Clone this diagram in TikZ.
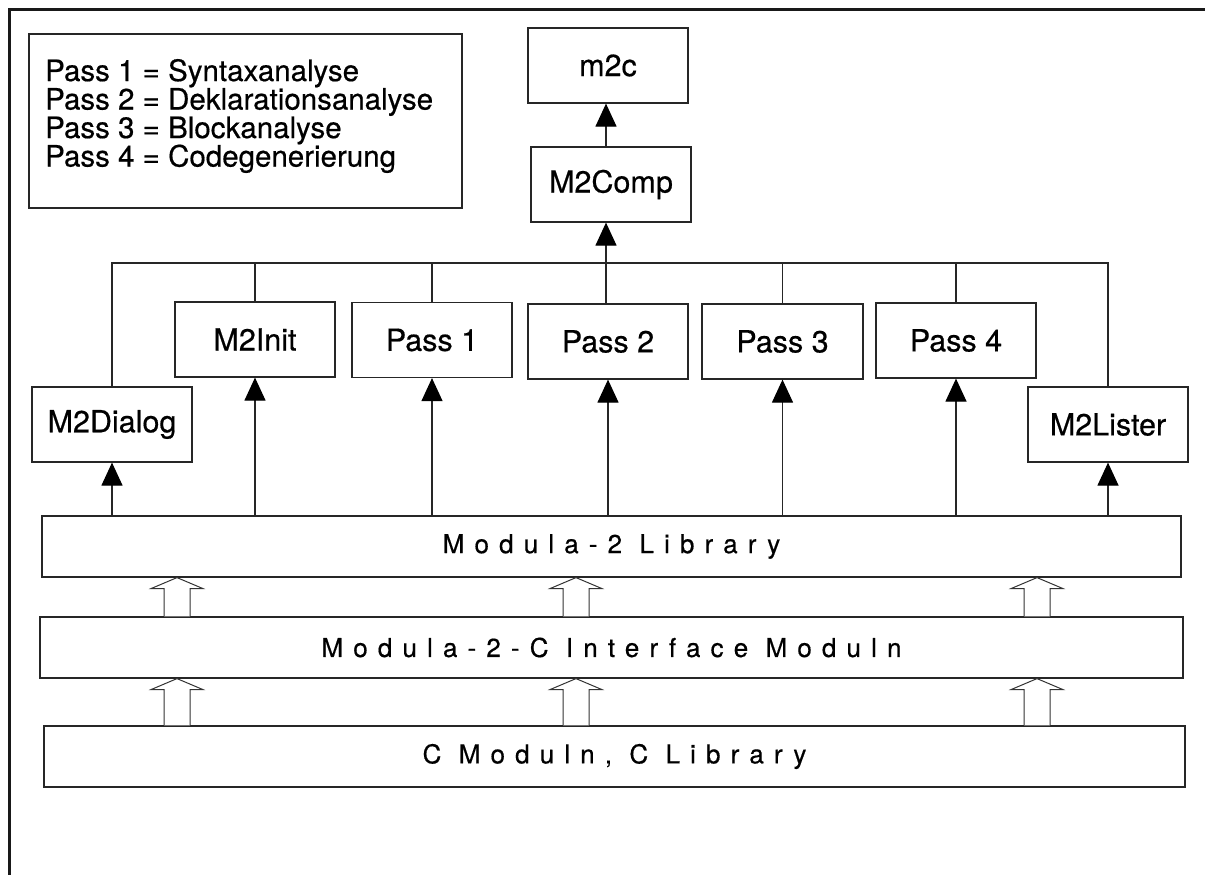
\documentclass[tikz,border=0pt]{standalone}
\usepackage{fontspec}
\setmainfont{TeX Gyre Heros}[FakeBold=0.5]
\usetikzlibrary{arrows.meta,calc}

\tikzset{
  ln/.style={draw=black!85, line width=1.2pt},
  box/.style={ln, fill=white, minimum width=160pt, minimum height=75pt, inner sep=0pt,
              font=\fontsize{30.5}{36}\selectfont},
  layer/.style={ln, fill=white, minimum height=61pt, inner sep=0pt,
              font=\fontsize{26}{30}\selectfont\addfontfeature{LetterSpace=39}},
  arr/.style={ln, -{Triangle[length=23pt,width=21pt,color=black]}},
  hollow/.style={draw=black!80, line width=1pt, fill=white},
}

% open block arrow pointing up, tip at #1, shaft foot at #2
\newcommand\blockarrow[2]{%
  \draw[hollow] ($(#2)+(-13,0)$) -- ($(#1)+(-13,11)$) -- ($(#1)+(-26,11)$) -- (#1)
    -- ($(#1)+(26,11)$) -- ($(#1)+(13,11)$) -- ($(#2)+(13,0)$);}

\begin{document}
\begin{tikzpicture}[x=1pt, y=-1pt]
\useasboundingbox (0,0) rectangle (1205,875);

% frame
\coordinate (frameBL) at (9.5,875);
\coordinate (frameTL) at (9.5,10);
\coordinate (frameTR) at (1205,10);
\draw[line width=3pt, black!90] (frameBL) -- (frameTL) -- (frameTR);

% legend
\node[ln, minimum width=433pt, minimum height=174pt, inner sep=0pt] (legend) at (245.5,121) {};
\node[anchor=west, align=left, inner sep=0pt, font=\fontsize{29.5}{28.5}\selectfont] (legtext) at (45,116)
  {Pass 1 = Syntaxanalyse\\Pass 2 = Deklarationsanalyse\\Pass 3 = Blockanalyse\\Pass 4 = Codegenerierung};

% modules
\node[box] (m2c)    at (608,65.5)   {m2c};
\node[box] (comp)   at (611,184.5)  {M2Comp};
\node[box] (init)   at (255,339.5)  {M2Init};
\node[box] (p1)     at (432,340)    {Pass 1};
\node[box] (p2)     at (608,341.5)  {Pass 2};
\node[box, minimum width=161pt] (p3) at (782.5,341.5) {Pass 3};
\node[box] (p4)     at (956,340.5)  {Pass 4};
\node[box] (dialog) at (112,424.5)  {M2Dialog};
\node[box] (lister) at (1108,424.5) {M2Lister};

% libraries
\node[layer, minimum width=1139pt] (lib)   at (611.5,546.5) {Modula-2 Library};
\node[layer, minimum width=1143pt] (iface) at (611.5,647.5) {Modula-2-C Interface Moduln};
\node[layer, minimum width=1141pt] (clib)  at (614.5,756.5) {C Moduln, C Library};

% collecting line
\coordinate (bus) at (606,263);
\draw[ln] (dialog.north) -- (dialog.north |- bus) -- (lister.north |- bus) -- (lister.north);
\foreach \n in {init,p1,p3,p4}
  \draw[ln] (\n.north) -- (\n.north |- bus);
\draw[arr] (p2.north -| bus) -- (comp.south -| bus);
\draw[arr] (comp.north -| bus) -- (m2c.south -| bus);

% uses
\foreach \n in {dialog,init,p1,p2,p3,p4,lister}
  \draw[arr] (\n.south |- lib.north) -- (\n.south);

% layer dependencies
\foreach \i/\x in {a/177,b/576,c/1037}{
  \coordinate (hx\i) at (\x,0);
  \blockarrow{lib.south -| hx\i}{iface.north -| hx\i}
  \blockarrow{iface.south -| hx\i}{clib.north -| hx\i}
}
\end{tikzpicture}
\end{document}
